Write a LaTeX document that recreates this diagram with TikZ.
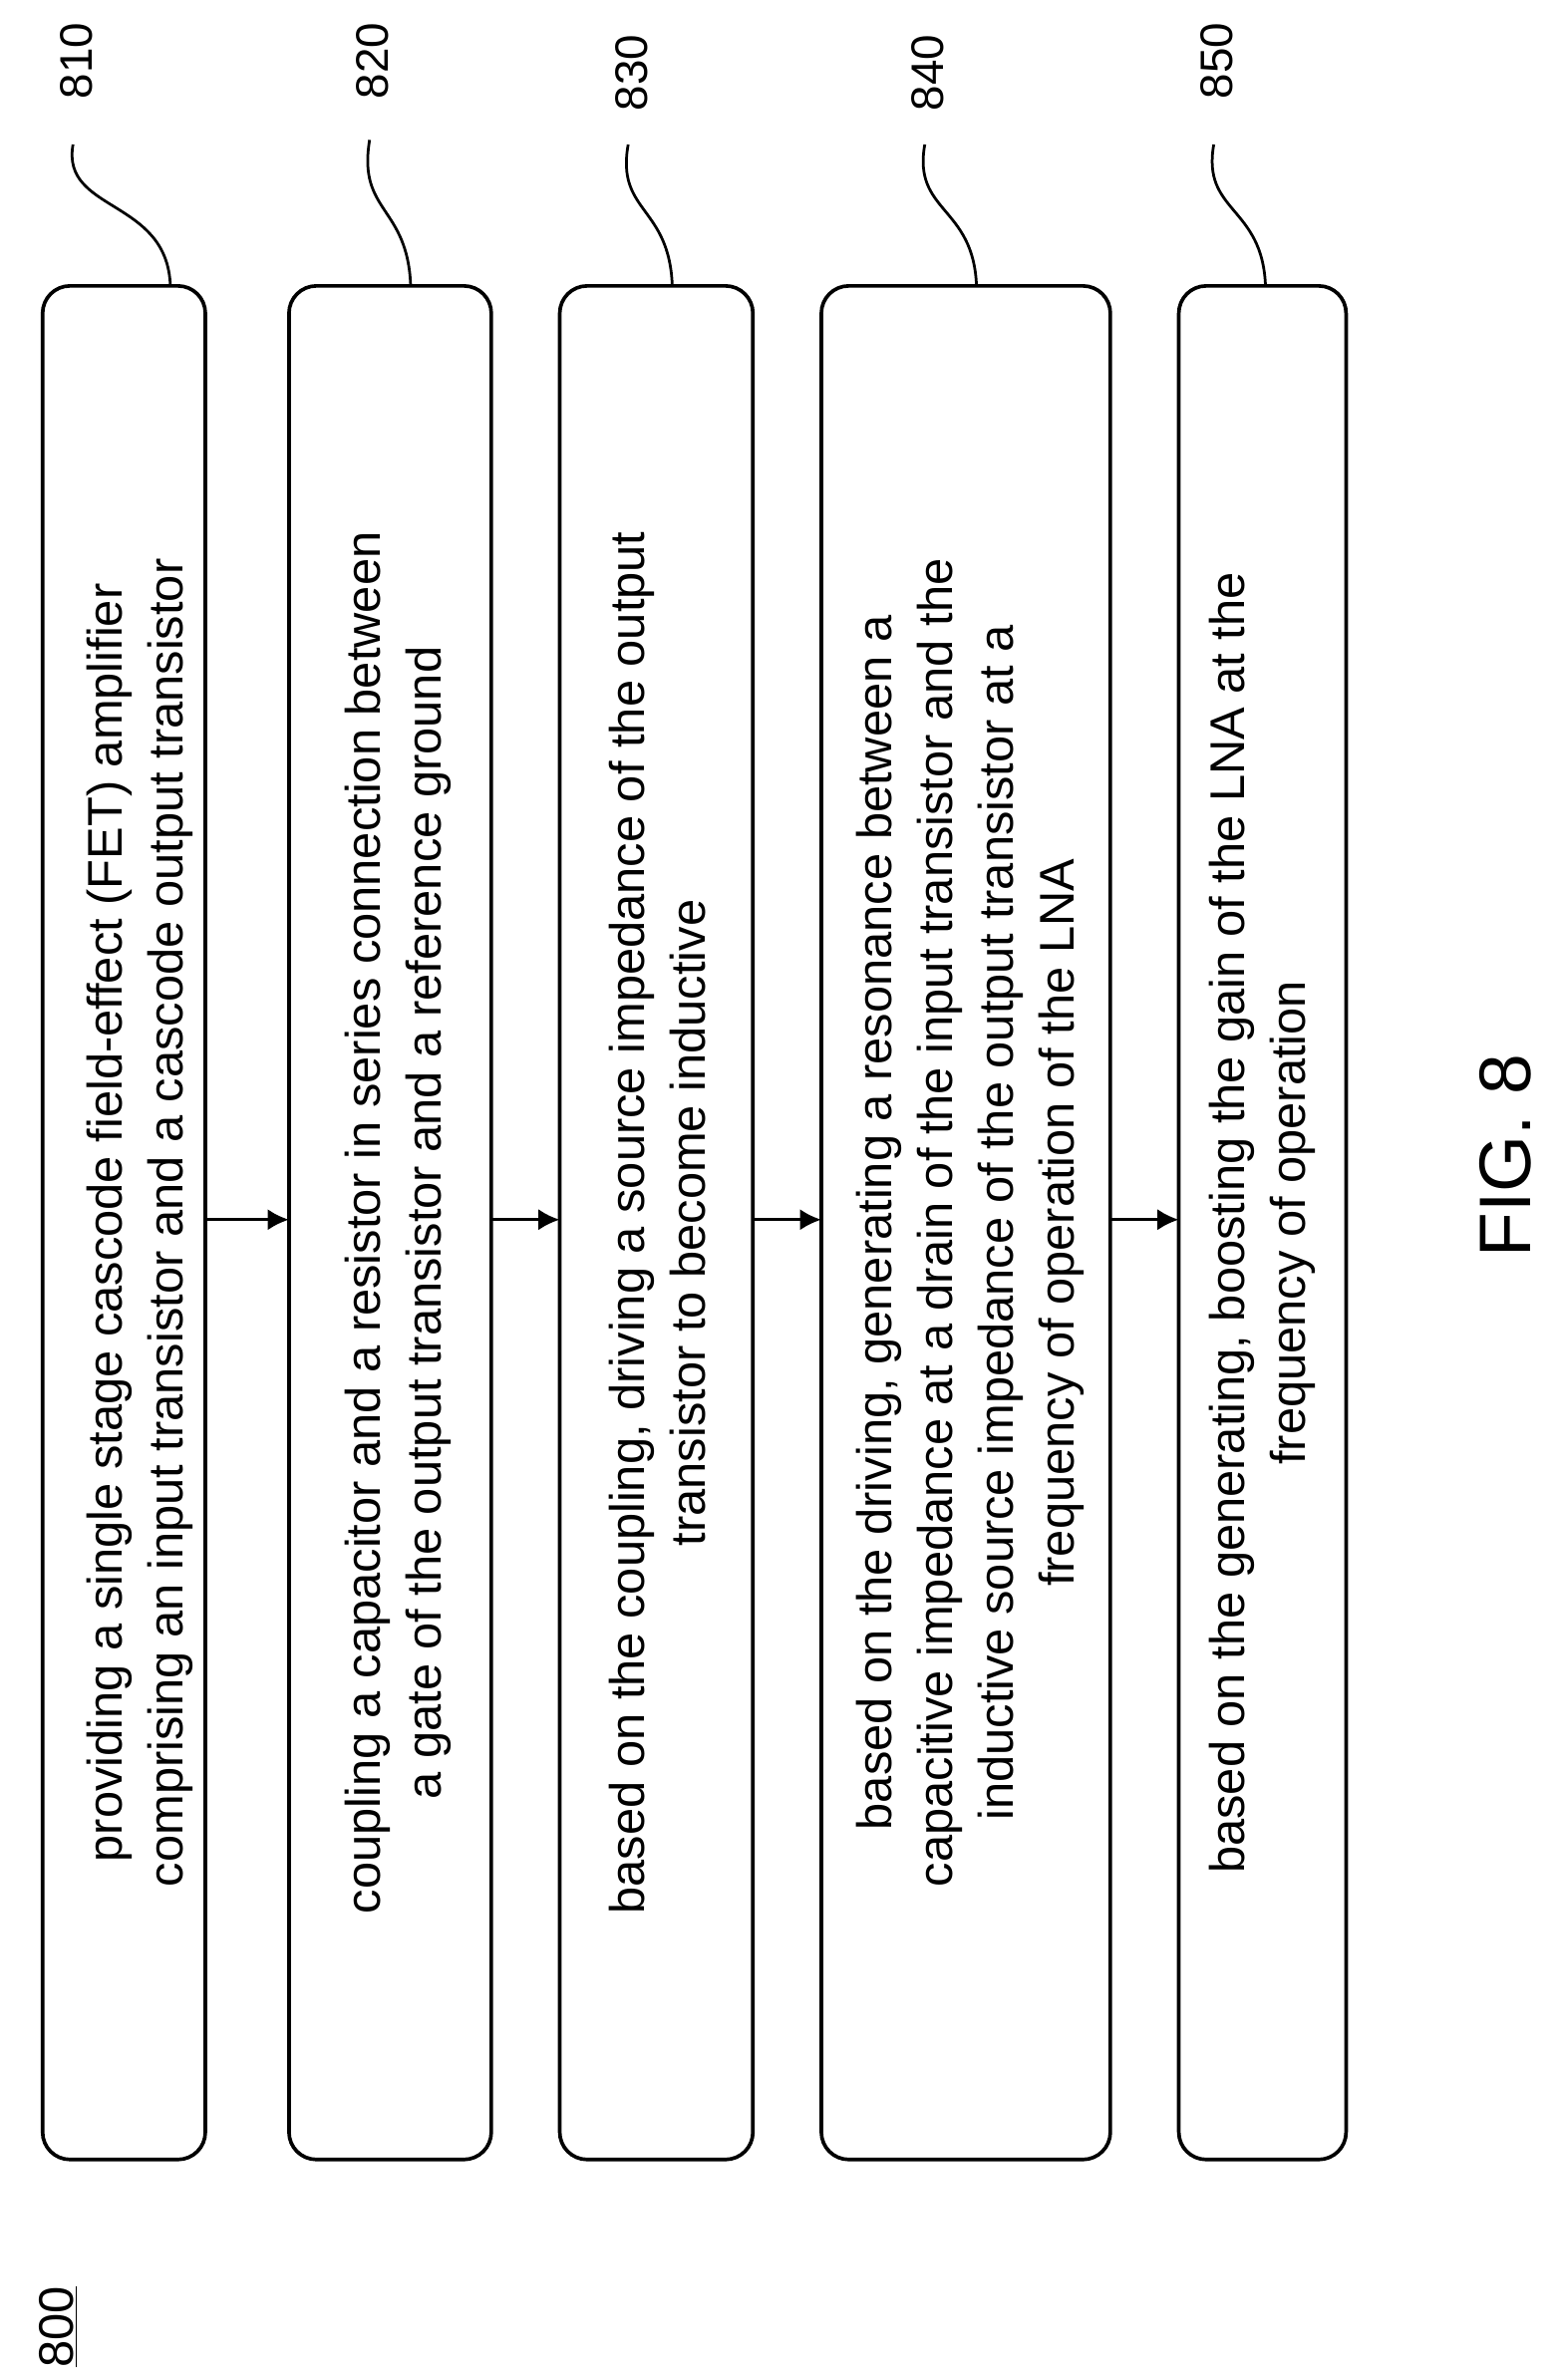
\documentclass[tikz,border=0pt]{standalone}
\usepackage{fontspec}
\setmainfont{Liberation Sans}
\usetikzlibrary{arrows.meta}
\begin{document}
\begin{tikzpicture}[x=1pt,y=1pt,
  stepbox/.style={draw,line width=2.4pt,rounded corners=18pt},
  txt/.style={rotate=90,align=center,font=\fontsize{32}{40}\selectfont},
  lbl/.style={rotate=90,font=\fontsize{30}{34}\selectfont},
  lead/.style={line width=1.8pt},
  arr/.style={line width=2.2pt,-{Latex[length=14pt,width=14pt]}}]
\useasboundingbox (0,0) rectangle (1024,-1565);
\draw[stepbox] (28,-188) rectangle (135,-1420);
\draw[stepbox] (190,-188) rectangle (323,-1420);
\draw[stepbox] (368,-188) rectangle (495,-1420);
\draw[stepbox] (540,-188) rectangle (730,-1420);
\draw[stepbox] (775,-188) rectangle (885,-1420);
\node[txt] (t810) at (92,-804) {providing a single stage cascode field-effect (FET) amplifier\\comprising an input transistor and a cascode output transistor};
\node[txt] (t820) at (262,-804) {coupling a capacitor and a resistor in series connection between\\a gate of the output transistor and a reference ground};
\node[txt] (t830) at (432,-804) {based on the coupling, driving a source impedance of the output\\transistor to become inductive};
\node[txt] (t840) at (638,-804) {based on the driving, generating a resonance between a\\capacitive impedance at a drain of the input transistor and the\\inductive source impedance of the output transistor at a\\frequency of operation of the LNA};
\node[txt] (t850) at (830,-804) {based on the generating, boosting the gain of the LNA at the\\frequency of operation};
\coordinate (b1) at (135,-802); \coordinate (a2) at (190,-802);
\coordinate (b2) at (323,-802); \coordinate (a3) at (368,-802);
\coordinate (b3) at (495,-802); \coordinate (a4) at (540,-802);
\coordinate (b4) at (730,-802); \coordinate (a5) at (775,-802);
\draw[arr] (b1) -- (a2); \draw[arr] (b2) -- (a3); \draw[arr] (b3) -- (a4); \draw[arr] (b4) -- (a5);
\node[lbl] (l810) at (50,-40) {810};
\node[lbl] (l820) at (245,-40) {820};
\node[lbl] (l830) at (415,-48) {830};
\node[lbl] (l840) at (610,-48) {840};
\node[lbl] (l850) at (800,-40) {850};
\draw[lead] (48,-95) .. controls (40,-140) and (110,-130) .. (112,-188);
\draw[lead] (243,-92) .. controls (235,-140) and (268,-135) .. (270,-188);
\draw[lead] (413,-95) .. controls (405,-140) and (440,-135) .. (442,-188);
\draw[lead] (608,-95) .. controls (600,-140) and (640,-135) .. (642,-188);
\draw[lead] (798,-95) .. controls (790,-140) and (830,-135) .. (832,-188);
\node[lbl,font=\fontsize{32}{36}\selectfont] (n800) at (38,-1530) {\underline{800}};
\node[rotate=90,font=\fontsize{48}{52}\selectfont] (fig) at (990,-760) {FIG. 8};
\end{tikzpicture}
\end{document}
